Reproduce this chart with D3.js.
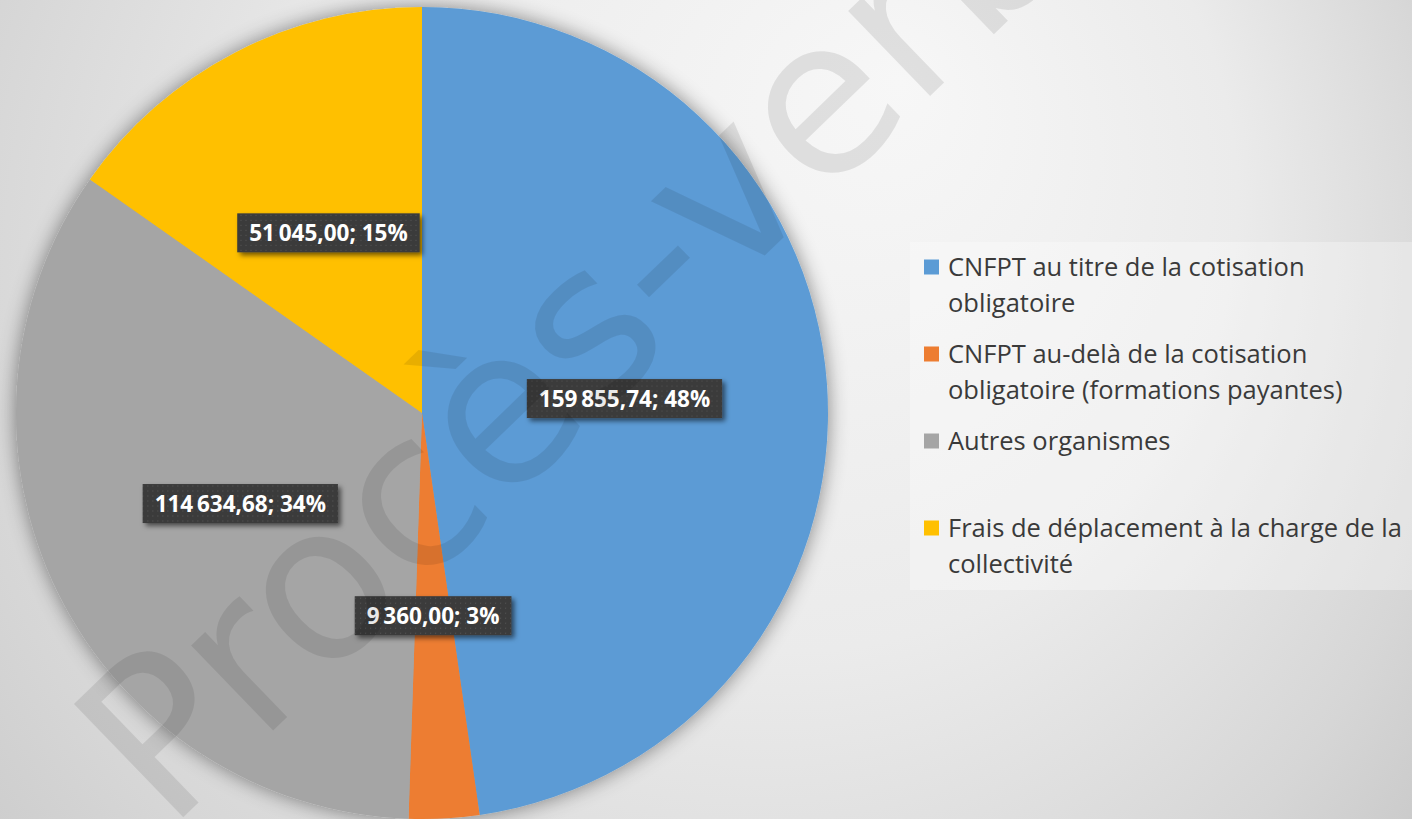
<!DOCTYPE html>
<html>
<head>
<meta charset="utf-8">
<script src="https://cdn.jsdelivr.net/npm/d3@7"></script>
<style>
    html, body { margin: 0; padding: 0; overflow: hidden; }
    svg { display: block; }
</style>
</head>
<body>
<svg id="chart" width="1412" height="819"></svg>
<script>
// Pie chart data
const categories = [
    'CNFPT au titre de la cotisation obligatoire',
    'CNFPT au-delà de la cotisation obligatoire (formations payantes)',
    'Autres organismes',
    'Frais de déplacement à la charge de la collectivité'
];
const values = [159855.74, 9360.00, 114634.68, 51045.00];
const colors = ['#5B9BD5', '#ED7D31', '#A5A5A5', '#FFC000'];
// legend lines as wrapped in the original
const legendLines = [
    ['CNFPT au titre de la cotisation', 'obligatoire'],
    ['CNFPT au-delà de la cotisation', 'obligatoire (formations payantes)'],
    ['Autres organismes'],
    ['Frais de déplacement à la charge de la', 'collectivité']
];
const watermark = 'Procès-verbal';

const width = 1412, height = 819;
const cx = 422, cy = 413, radius = 406;

const svg = d3.select('#chart');
const defs = svg.append('defs');

// Background radial gradient
const bg = defs.append('radialGradient')
    .attr('id', 'bg')
    .attr('gradientUnits', 'userSpaceOnUse')
    .attr('cx', 650).attr('cy', 350).attr('r', 1000)
    .attr('fx', 900).attr('fy', 80);
bg.append('stop').attr('offset', 0).attr('stop-color', '#f7f7f7');
bg.append('stop').attr('offset', 0.45).attr('stop-color', '#ebebeb');
bg.append('stop').attr('offset', 0.76).attr('stop-color', '#d6d6d6');
bg.append('stop').attr('offset', 1).attr('stop-color', '#c2c2c2');

// soft halo around the pie
const halo = defs.append('filter').attr('id', 'halo')
    .attr('x', '-10%').attr('y', '-10%').attr('width', '120%').attr('height', '120%');
halo.append('feDropShadow')
    .attr('dx', 0).attr('dy', 0).attr('stdDeviation', 10)
    .attr('flood-color', '#000').attr('flood-opacity', 0.45);

// label box shadow
const boxShadow = defs.append('filter').attr('id', 'boxShadow')
    .attr('x', '-10%').attr('y', '-20%').attr('width', '125%').attr('height', '160%');
boxShadow.append('feDropShadow')
    .attr('dx', 3).attr('dy', 3).attr('stdDeviation', 2.5)
    .attr('flood-color', '#000').attr('flood-opacity', 0.55);

// dotted texture of the label boxes
const pat = defs.append('pattern').attr('id', 'dots')
    .attr('width', 5).attr('height', 5)
    .attr('patternUnits', 'userSpaceOnUse');
pat.append('rect').attr('width', 5).attr('height', 5).attr('fill', '#3b3b3b');
pat.append('rect').attr('x', 2).attr('y', 2).attr('width', 1).attr('height', 1).attr('fill', '#575757');

svg.append('rect')
    .attr('width', width).attr('height', height)
    .attr('fill', 'url(#bg)');

// Pie
const total = d3.sum(values);
const pie = d3.pie().sort(null).value(d => d);
const arc = d3.arc().innerRadius(0).outerRadius(radius);
const arcs = pie(values);

const pieG = svg.append('g')
    .attr('transform', `translate(${cx},${cy})`);

pieG.append('g')
    .attr('filter', 'url(#halo)')
    .selectAll('path')
    .data(arcs)
    .enter()
    .append('path')
    .attr('d', arc)
    .attr('fill', (d, i) => colors[i]);

// Legend
const legendX = 910, legendY = 242;
const legendG = svg.append('g');
legendG.append('rect')
    .attr('x', legendX).attr('y', legendY)
    .attr('width', width - legendX).attr('height', 348)
    .attr('fill', '#ffffff').attr('fill-opacity', 0.3);

const entryStep = 87, lineStep = 36, firstCenter = 267;
categories.forEach((c, i) => {
    const yc = firstCenter + i * entryStep;
    legendG.append('rect')
        .attr('x', 924).attr('y', yc - 7.5)
        .attr('width', 15).attr('height', 15)
        .attr('fill', colors[i]);
    const t = legendG.append('text')
        .attr('x', 948)
        .attr('y', yc + 9)
        .attr('font-family', '"Open Sans", "Noto Sans", sans-serif')
        .attr('font-size', 25.5)
        .attr('fill', '#3a3a3a');
    legendLines[i].forEach((line, j) => {
        t.append('tspan')
            .attr('x', 948)
            .attr('dy', j === 0 ? 0 : lineStep)
            .text(line);
    });
});

// Data labels: value; percent, centred on the slice centroid
const frLocale = d3.formatLocale({ decimal: ',', thousands: '\u2009', grouping: [3], currency: ['', ' €'] });
const fmt = frLocale.format(',.2f');

const labelG = pieG.append('g');
arcs.forEach((d, i) => {
    const [lx, ly] = arc.centroid(d);
    const pct = Math.round(values[i] / total * 100);
    const g = labelG.append('g').attr('transform', `translate(${lx},${ly})`);
    const box = g.append('rect')
        .attr('fill', 'url(#dots)')
        .attr('filter', 'url(#boxShadow)');
    const txt = g.append('text')
        .attr('text-anchor', 'middle')
        .attr('y', 8)
        .attr('font-family', '"Open Sans", "Noto Sans", sans-serif')
        .attr('font-weight', 700)
        .attr('font-size', 22.5)
        .attr('fill', '#ffffff')
        .text(`${fmt(values[i])}; ${pct}%`);
    const w = txt.node().getComputedTextLength() + 24;
    box.attr('x', -w / 2).attr('y', -19.5)
        .attr('width', w).attr('height', 39);
});

// Watermark across the whole picture (cut by the frame, as in the original)
svg.append('text')
    .attr('transform', 'translate(168,832) rotate(-44)')
    .attr('font-family', '"DejaVu Sans", sans-serif')
    .attr('font-size', 216)
    .attr('fill', '#000')
    .attr('fill-opacity', 0.09)
    .text(watermark);
</script>
</body>
</html>
